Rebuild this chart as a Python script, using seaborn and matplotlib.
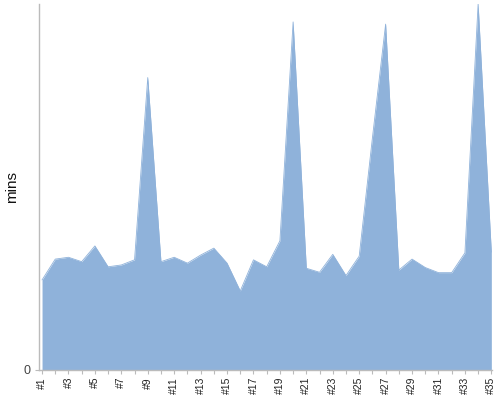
import matplotlib
matplotlib.use("Agg")
import matplotlib.pyplot as plt
import seaborn as sns
import pandas as pd

# run labels and minutes per run
runs = ["#%d" % i for i in range(1, 36)]
mins = [24.6, 30.3, 30.8, 29.6, 33.9, 28.2, 28.7, 30.1, 79.9, 29.6,
        30.8, 29.2, 31.4, 33.3, 29.2, 21.6, 30.1, 28.2, 35.3, 95.1,
        27.8, 26.7, 31.6, 25.8, 31.1, 63.4, 94.5, 27.3, 30.3, 28.0,
        26.6, 26.6, 32.0, 100.0, 32.2]

df = pd.DataFrame({"run": runs, "mins": mins})
df["pos"] = range(len(df))

sns.set_style("white")
plt.rcParams["font.family"] = ["Liberation Sans", "DejaVu Sans"]

fig = plt.figure(figsize=(5, 4), dpi=100)
ax = fig.add_axes([0.078, 0.075, 0.906, 0.915])

area_color = "#8fb2da"
sns.lineplot(data=df, x="pos", y="mins", color=area_color, linewidth=0.6, ax=ax)
ax.fill_between(df["pos"], 0, df["mins"], color=area_color, linewidth=0)

ax.set_xlim(-0.23, 34.05)
ax.set_ylim(0, 100)

# ticks: mark every run, label every other one
ax.set_xticks(df["pos"][::2])
ax.set_xticklabels(df["run"][::2], rotation=90, fontsize=7.5, color="#222222")
ax.set_xticks(df["pos"], minor=True)
ax.set_yticks([0])
ax.set_yticklabels(["0"], fontsize=9, color="#444444")
ax.tick_params(axis="x", which="both", length=3, width=0.8, color="#bbbbbb",
               direction="out", bottom=True, pad=2)
ax.tick_params(axis="y", length=3, width=0.8, color="#bbbbbb", left=True, pad=3)

ax.set_xlabel("")
ax.set_ylabel("mins", fontsize=11, color="#111111")
ax.yaxis.set_label_coords(-0.045, 0.5)

for side in ["top", "right"]:
    ax.spines[side].set_visible(False)
for side in ["left", "bottom"]:
    ax.spines[side].set_color("#bbbbbb")
    ax.spines[side].set_linewidth(1)

fig.savefig("out.png", dpi=100)
